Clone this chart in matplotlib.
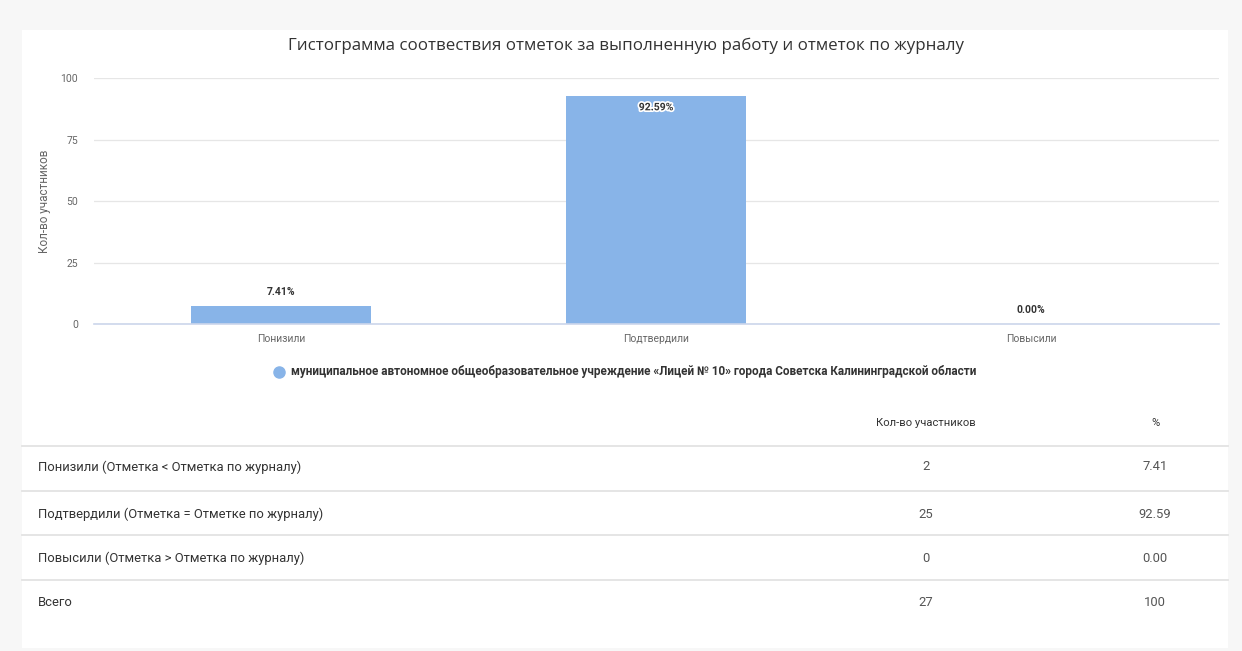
import matplotlib.pyplot as plt
from matplotlib.lines import Line2D
from matplotlib.patches import Rectangle
import matplotlib.patheffects as pe

plt.rcParams['font.family'] = ['Roboto', 'DejaVu Sans']

# данные
categories = ["Понизили", "Подтвердили", "Повысили"]
percents = [7.41, 92.59, 0.00]
bar_labels = ["7.41%", "92.59%", "0.00%"]
yticks = [0, 25, 50, 75, 100]
series_name = ("муниципальное автономное общеобразовательное учреждение "
               "«Лицей № 10» города Советска Калининградской области")

table_rows = ["Понизили (Отметка < Отметка по журналу)",
              "Подтвердили (Отметка = Отметке по журналу)",
              "Повысили (Отметка > Отметка по журналу)",
              "Всего"]
table_counts = ["2", "25", "0", "27"]
table_pct = ["7.41", "92.59", "0.00", "100"]

W, H = 1242, 651
fig = plt.figure(figsize=(W / 100, H / 100), dpi=100)
fig.patch.set_facecolor("#f7f7f7")

def fx(x):
    return x / W

def fy(y):
    return 1 - y / H

# белая карточка
fig.patches.append(Rectangle((fx(22), fy(648)), fx(1228) - fx(22), fy(30) - fy(648),
                             transform=fig.transFigure, facecolor="white",
                             edgecolor="none", zorder=-5))

ax = fig.add_axes([fx(93.5), fy(324), fx(1218.5) - fx(93.5), fy(78) - fy(324)])
ax.set_zorder(2)
ax.set_facecolor("white")
x = list(range(len(categories)))
ax.bar(x, percents, width=0.48, color="#88b4e8", zorder=2)
ax.set_xlim(-0.5, 2.5)
ax.set_ylim(0, 100)
ax.set_yticks(yticks)
ax.set_xticks(x)
ax.set_xticklabels(categories)
ax.tick_params(axis="both", length=0, labelsize=7.5, colors="#666666")
ax.tick_params(axis="y", pad=11)
ax.tick_params(axis="x", pad=7)
ax.grid(axis="y", color="#e6e6e6", linewidth=0.9, zorder=0)
for s in ["top", "right", "left"]:
    ax.spines[s].set_visible(False)
ax.spines["bottom"].set_color("#ccd6eb")
ax.spines["bottom"].set_linewidth(1.2)
ax.set_ylabel("Кол-во участников", fontsize=8.5, color="#666666", labelpad=7)

for i, (v, t) in enumerate(zip(percents, bar_labels)):
    if v > 80:
        ax.text(i, v - 4.5, t, ha="center", va="center", fontsize=7.5, fontweight="bold",
                color="#333333",
                path_effects=[pe.withStroke(linewidth=2.5, foreground="white")])
    else:
        ax.text(i, v + 5.7, t, ha="center", va="center", fontsize=7.5, fontweight="bold",
                color="#333333")

fig.text(fx(626), fy(46), "Гистограмма соотвествия отметок за выполненную работу и отметок по журналу",
         ha="center", va="center", fontsize=12.2, color="#333333",
         family=["Open Sans", "DejaVu Sans"])

# легенда
fig.add_artist(Line2D([fx(279)], [fy(372)], marker="o", markersize=8,
                      color="#88b4e8", linestyle="none"))
fig.text(fx(291), fy(372), series_name, ha="left", va="center", fontsize=8.45,
         fontweight="bold", color="#333333")

# таблица
fig.text(fx(926), fy(423), "Кол-во участников", ha="center", va="center",
         fontsize=8.1, color="#333333")
fig.text(fx(1155), fy(423), "%", ha="center", va="center", fontsize=8.1, color="#333333")
for ly in [446, 491, 535, 580]:
    fig.add_artist(Line2D([fx(22), fx(1228)], [fy(ly), fy(ly)], color="#e0e0e0", linewidth=1.2))
row_y = [467, 514, 558, 603]
for ry, name, c, p in zip(row_y, table_rows, table_counts, table_pct):
    fig.text(fx(38), fy(ry), name, ha="left", va="center", fontsize=9.4, color="#333333")
    fig.text(fx(926), fy(ry), c, ha="center", va="center", fontsize=9.4, color="#555555")
    fig.text(fx(1155), fy(ry), p, ha="center", va="center", fontsize=9.4, color="#555555")

fig.savefig("out.png", dpi=100, facecolor=fig.get_facecolor())
